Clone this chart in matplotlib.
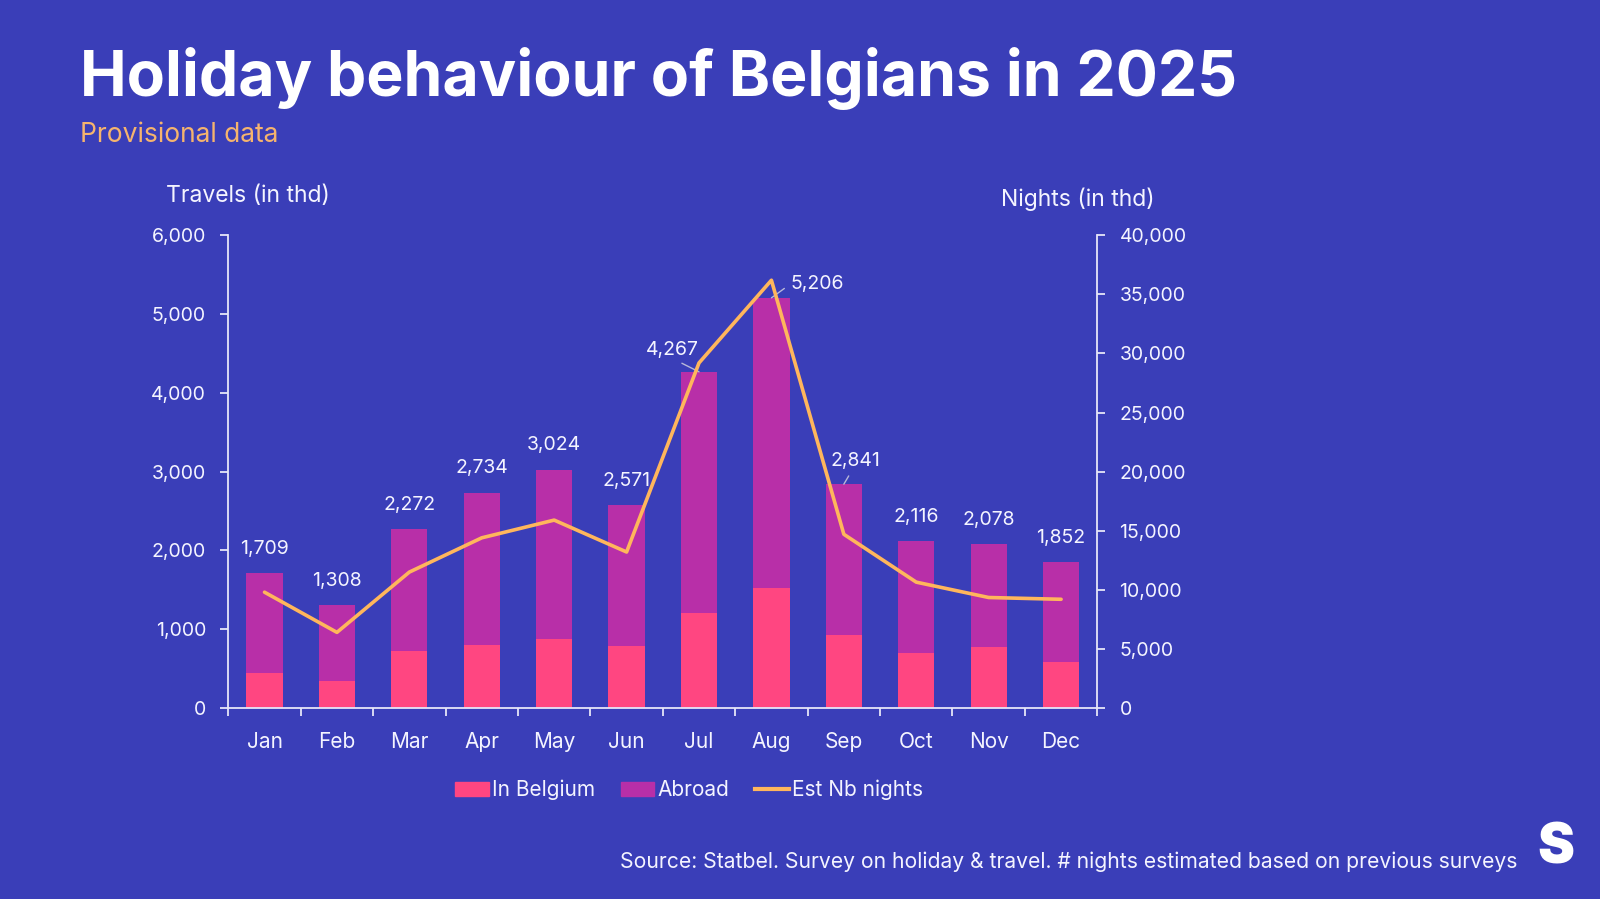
import matplotlib.pyplot as plt
import numpy as np
from matplotlib.ticker import FuncFormatter, MultipleLocator, FixedLocator
from matplotlib.patches import Patch
from matplotlib.lines import Line2D

months = ['Jan', 'Feb', 'Mar', 'Apr', 'May', 'Jun',
          'Jul', 'Aug', 'Sep', 'Oct', 'Nov', 'Dec']
total_travels = [1709, 1308, 2272, 2734, 3024, 2571,
                 4267, 5206, 2841, 2116, 2078, 1852]
in_belgium = [447, 349, 719, 805, 872, 787,
              1200, 1520, 923, 702, 770, 578]
est_nights = [9800, 6400, 11500, 14400, 15900, 13200,
              29200, 36200, 14700, 10650, 9350, 9200]

abroad = [t - b for t, b in zip(total_travels, in_belgium)]

BG = '#3A3EB8'
PINK = '#FF4681'
MAGENTA = '#B82FA8'
ORANGE = '#FFB65C'
SPINE = '#E6E6F8'
TXT = '#F4F4FF'
FONT = 'Inter'

plt.rcParams['font.family'] = FONT

fig = plt.figure(figsize=(16, 8.99), dpi=100, facecolor=BG)
ax = fig.add_axes([228.3 / 1600, 1 - 708 / 899, (1097.3 - 228.3) / 1600, (708 - 235.3) / 899])
ax.set_facecolor(BG)

x = np.arange(len(months))
ax.bar(x, in_belgium, width=0.5, color=PINK, zorder=2)
ax.bar(x, abroad, width=0.5, bottom=in_belgium, color=MAGENTA, zorder=2)

ax.set_xlim(-0.5, 11.5)
ax.set_ylim(0, 6000)
ax.yaxis.set_major_locator(MultipleLocator(1000))
ax.yaxis.set_major_formatter(FuncFormatter(lambda v, p: f'{v:,.0f}'))

ax.set_xticks(x)
ax.set_xticklabels(months)
ax.xaxis.set_minor_locator(FixedLocator(np.arange(-0.5, 12, 1)))
ax.tick_params(axis='x', which='major', length=0, pad=17, labelsize=15, labelcolor=TXT)
ax.tick_params(axis='x', which='minor', length=6, width=1.3, color=SPINE, direction='out')
ax.tick_params(axis='y', length=6, width=1.3, color=SPINE, pad=10, labelsize=14, labelcolor=TXT)

for side in ['top', 'right']:
    ax.spines[side].set_visible(False)
for side in ['left', 'bottom']:
    ax.spines[side].set_color(SPINE)
    ax.spines[side].set_linewidth(1.3)

ax2 = ax.twinx()
ax2.plot(x, est_nights, color=ORANGE, lw=2.6, zorder=3, solid_capstyle='round')
ax2.set_ylim(0, 40000)
ax2.yaxis.set_major_locator(MultipleLocator(5000))
ax2.yaxis.set_major_formatter(FuncFormatter(lambda v, p: f'{v:,.0f}'))
ax2.tick_params(axis='y', length=6, width=1.3, color=SPINE, pad=10, labelsize=14, labelcolor=TXT)
for side in ['top', 'left', 'bottom']:
    ax2.spines[side].set_visible(False)
ax2.spines['right'].set_color(SPINE)
ax2.spines['right'].set_linewidth(1.3)

# value labels on top of the bars (Jul, Aug, Sep with a leader line)
offsets = {6: (-19, 16), 7: (33, 10), 8: (8, 17)}
anchors = {6: (0.5, 0), 7: (0, 0.5), 8: (0.45, 0)}
for i, t in enumerate(total_travels):
    dx, dy = offsets.get(i, (0, 17.5))
    if i in offsets:
        ax.annotate(f'{t:,}', xy=(i, t), xytext=(dx, dy), textcoords='offset points',
                    ha='center', va='center', fontsize=14, color=TXT, zorder=5,
                    arrowprops=dict(arrowstyle='-', color='#B8B8D8', lw=1,
                                    relpos=anchors[i], shrinkA=3, shrinkB=0))
    else:
        ax.annotate(f'{t:,}', xy=(i, t), xytext=(dx, dy), textcoords='offset points',
                    ha='center', va='center', fontsize=14, color=TXT, zorder=5)

fig.text(80 / 1600, 1 - 79 / 899, 'Holiday behaviour of Belgians in 2025',
         fontsize=45, fontweight='bold', color='white', ha='left', va='center')
fig.text(80 / 1600, 1 - 135 / 899, 'Provisional data',
         fontsize=19, color='#F5B46E', ha='left', va='center')
fig.text(166 / 1600, 1 - 196 / 899, 'Travels (in thd)',
         fontsize=16.5, color=TXT, ha='left', va='center')
fig.text(1001 / 1600, 1 - 199 / 899, 'Nights (in thd)',
         fontsize=16.5, color=TXT, ha='left', va='center')
fig.text(1517 / 1600, 1 - 862 / 899,
         'Source: Statbel. Survey on holiday & travel. # nights estimated based on previous surveys',
         fontsize=15.2, color=TXT, ha='right', va='center')
fig.text(1556 / 1600, 1 - 849 / 899, 'S', fontsize=40, fontweight='black',
         color='white', ha='center', va='center')

handles = [Patch(color=PINK, label='In Belgium'),
           Patch(color=MAGENTA, label='Abroad'),
           Line2D([0], [0], color=ORANGE, lw=3, label='Est Nb nights')]
leg = fig.legend(handles=handles, loc='center', bbox_to_anchor=(689 / 1600, 1 - 790 / 899),
                 ncol=3, frameon=False, fontsize=15, handlelength=1.6, handleheight=0.7,
                 handletextpad=0.15, columnspacing=1.25)
for t in leg.get_texts():
    t.set_color(TXT)

fig.savefig('out.png', dpi=100, facecolor=BG)
